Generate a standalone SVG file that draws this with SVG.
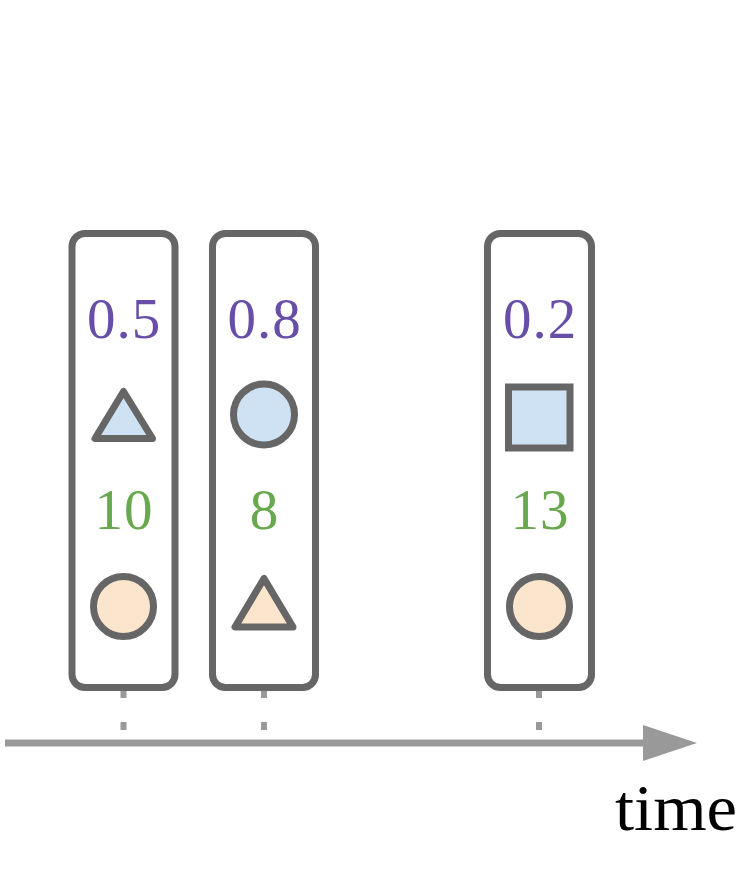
<svg xmlns="http://www.w3.org/2000/svg" width="750" height="880" viewBox="0 0 750 880">
<style>
.box{fill:#ffffff;stroke:#666666;stroke-width:7}
.shp{stroke:#666666;stroke-width:7;stroke-linejoin:round}
.blue{fill:#cfe2f3}
.orange{fill:#fce5cd}
.num{font-family:"Liberation Serif","DejaVu Serif",serif;font-size:57px;text-anchor:middle;letter-spacing:1px}
.p{fill:#674ea7}
.g{fill:#6aa84f}
.tick{stroke:#999999;stroke-width:6;stroke-dasharray:8 24}
</style>
<rect width="750" height="880" fill="#ffffff"/>
<g id="connectors">
<line class="tick" x1="123.5" y1="690" x2="123.5" y2="731"/>
<line class="tick" x1="264" y1="690" x2="264" y2="731"/>
<line class="tick" x1="539" y1="690" x2="539" y2="731"/>
<line x1="5" y1="743" x2="650" y2="743" stroke="#999999" stroke-width="7"/>
<polygon points="643,725 697,743 643,761" fill="#999999"/>
</g>
<g id="event1">
<rect class="box" x="72" y="233.5" width="103" height="454" rx="13"/>
<text class="num p" x="124" y="338">0.5</text>
<polygon class="shp blue" points="123.5,391.5 95,438.5 152.5,438.5"/>
<text class="num g" x="124" y="529">10</text>
<circle class="shp orange" cx="123.5" cy="606.5" r="30"/>
</g>
<g id="event2">
<rect class="box" x="212.5" y="233.5" width="103" height="454" rx="13"/>
<text class="num p" x="264.5" y="338">0.8</text>
<circle class="shp blue" cx="264" cy="414.5" r="30.5"/>
<text class="num g" x="264.5" y="529">8</text>
<polygon class="shp orange" points="264,578.5 235,627 293,627"/>
</g>
<g id="event3">
<rect class="box" x="487.5" y="233.5" width="104" height="454" rx="13"/>
<text class="num p" x="540" y="338">0.2</text>
<rect class="shp blue" x="508.5" y="387" width="61.5" height="61" style="stroke-linejoin:miter"/>
<text class="num g" x="540" y="529">13</text>
<circle class="shp orange" cx="539.5" cy="606.5" r="30"/>
</g>
<text x="615" y="830" font-family="Liberation Serif, DejaVu Serif, serif" font-size="66" textLength="122" lengthAdjust="spacingAndGlyphs" fill="#000000">time</text>
</svg>
